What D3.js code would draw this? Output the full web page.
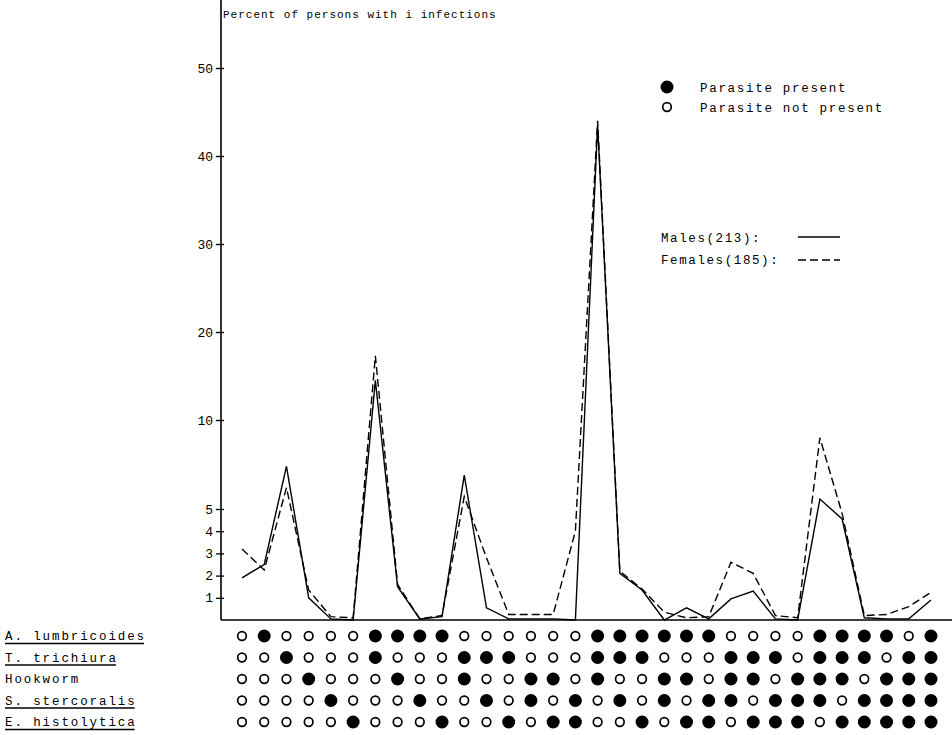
<!DOCTYPE html>
<html>
<head>
<meta charset="utf-8">
<script src="https://cdn.jsdelivr.net/npm/d3@7"></script>
<style>
  body { margin: 0; background: #fff; }
  text { font-family: "Liberation Mono", "DejaVu Sans Mono", monospace; fill: #000; }
</style>
</head>
<body>
<div id="chart"></div>
<script>
// chart values
const species = ["A. lumbricoides", "T. trichiura", "Hookworm", "S. stercoralis", "E. histolytica"]
const underlined = [true, true, false, true, true]

// 1 = parasite present, one string per species, 32 combinations
const presence = [
  "01000011110000001111110000111101",
  "00100010001110001110001110111011",
  "00010001001001101001101101110111",
  "00001000100101010101011011101111",
  "00000100010010110010110111011111"
]

const males   = [1.9, 2.5, 7.4, 1.0, 0.05, 0.0, 14.5, 1.5, 0.05, 0.15, 6.9, 0.55, 0.05, 0.05, 0.05, 0.0,
                 43.5, 2.1, 1.35, 0.0, 0.55, 0.05, 0.95, 1.3, 0.05, 0.0, 5.56, 4.55, 0.1, 0.05, 0.05, 0.9]
const females = [3.2, 2.25, 6.2, 1.35, 0.15, 0.1, 17.3, 1.6, 0.05, 0.2, 5.7, 2.8, 0.25, 0.25, 0.25, 4.0,
                 44.0, 2.2, 1.4, 0.35, 0.1, 0.15, 2.6, 2.1, 0.2, 0.1, 9.0, 4.8, 0.2, 0.25, 0.6, 1.25]

const yTicks = [1, 2, 3, 4, 5, 10, 20, 30, 40, 50]

const width = 952
const height = 735

const svg = d3.select("#chart")
  .append("svg")
  .attr("width", width)
  .attr("height", height)

svg.append("rect").attr("width", width).attr("height", height).attr("fill", "#fff")

// axis positions
const axisX = 221
const baseY = 620

// x: one column per combination
const x = d3.scaleLinear()
  .domain([0, males.length - 1])
  .range([242, 931])

// y is stretched below 5, like the original
const y = d3.scaleLinear()
  .domain([0, 5, 10, 50])
  .range([baseY, 509, 420, 68])

// y axis
const yAxis = svg.append("g")
  .attr("transform", "translate(" + axisX + ",0)")
  .call(d3.axisLeft(y).tickValues(yTicks).tickSize(5).tickPadding(3))

yAxis.select(".domain").remove()
yAxis.selectAll(".tick line").attr("stroke", "#000").attr("stroke-width", 1.3)
yAxis.selectAll(".tick").append("line")
  .attr("x1", 0).attr("x2", 3)
  .attr("stroke", "#000").attr("stroke-width", 1.3)
yAxis.selectAll(".tick text")
  .style("font-family", '"Liberation Mono", "DejaVu Sans Mono", monospace')
  .style("font-size", "13px")
  .attr("fill", "#000")

svg.append("line")
  .attr("x1", axisX).attr("x2", axisX)
  .attr("y1", 0).attr("y2", baseY)
  .attr("stroke", "#000").attr("stroke-width", 1.6)

svg.append("line")
  .attr("x1", axisX).attr("x2", width)
  .attr("y1", baseY).attr("y2", baseY)
  .attr("stroke", "#000").attr("stroke-width", 1.6)

svg.append("text")
  .attr("x", 223).attr("y", 18)
  .style("font-size", "11px")
  .style("letter-spacing", "1px")
  .text("Percent of persons with i infections")

// lines
const line = d3.line()
  .x((d, i) => x(i))
  .y(d => y(d))

svg.append("path")
  .datum(males)
  .attr("d", line)
  .attr("fill", "none")
  .attr("stroke", "#000")
  .attr("stroke-width", 1.4)

svg.append("path")
  .datum(females)
  .attr("d", line)
  .attr("fill", "none")
  .attr("stroke", "#000")
  .attr("stroke-width", 1.4)
  .attr("stroke-dasharray", "8,4")

// presence matrix
const row = d3.scalePoint()
  .domain(species)
  .range([636, 722])

species.forEach(function(s, si) {
  const cells = presence[si].split("").map(Number)
  svg.append("g")
    .selectAll("circle")
    .data(cells)
    .join("circle")
      .attr("cx", (d, i) => x(i))
      .attr("cy", row(s))
      .attr("r", d => d ? 6.5 : 4.3)
      .attr("fill", d => d ? "#000" : "#fff")
      .attr("stroke", "#000")
      .attr("stroke-width", d => d ? 0 : 1.7)

  const label = svg.append("text")
    .attr("x", 5)
    .attr("y", row(s) + 4)
    .style("font-size", "12.5px")
    .style("letter-spacing", "1.9px")
    .text(s)

  if (underlined[si]) {
    const w = label.node().getComputedTextLength()
    svg.append("line")
      .attr("x1", 5).attr("x2", 5 + w - 2)
      .attr("y1", row(s) + 7.5).attr("y2", row(s) + 7.5)
      .attr("stroke", "#000").attr("stroke-width", 1.3)
  }
})

// legends
const legendFont = "12.5px"
svg.append("circle").attr("cx", 667).attr("cy", 87).attr("r", 6.5).attr("fill", "#000")
svg.append("circle").attr("cx", 667).attr("cy", 107).attr("r", 4.3)
  .attr("fill", "#fff").attr("stroke", "#000").attr("stroke-width", 1.7)
svg.append("text").attr("x", 700).attr("y", 92)
  .style("font-size", legendFont).style("letter-spacing", "1.7px")
  .text("Parasite present")
svg.append("text").attr("x", 700).attr("y", 112)
  .style("font-size", legendFont).style("letter-spacing", "1.7px")
  .text("Parasite not present")

svg.append("text").attr("x", 661).attr("y", 242)
  .style("font-size", legendFont).style("letter-spacing", "1.6px")
  .text("Males(213):")
svg.append("text").attr("x", 661).attr("y", 264)
  .style("font-size", legendFont).style("letter-spacing", "1.6px")
  .text("Females(185):")

svg.append("line")
  .attr("x1", 798).attr("x2", 840).attr("y1", 237).attr("y2", 237)
  .attr("stroke", "#000").attr("stroke-width", 1.4)
svg.append("line")
  .attr("x1", 798).attr("x2", 840).attr("y1", 260).attr("y2", 260)
  .attr("stroke", "#000").attr("stroke-width", 1.6)
  .attr("stroke-dasharray", "8,4")
</script>
</body>
</html>
